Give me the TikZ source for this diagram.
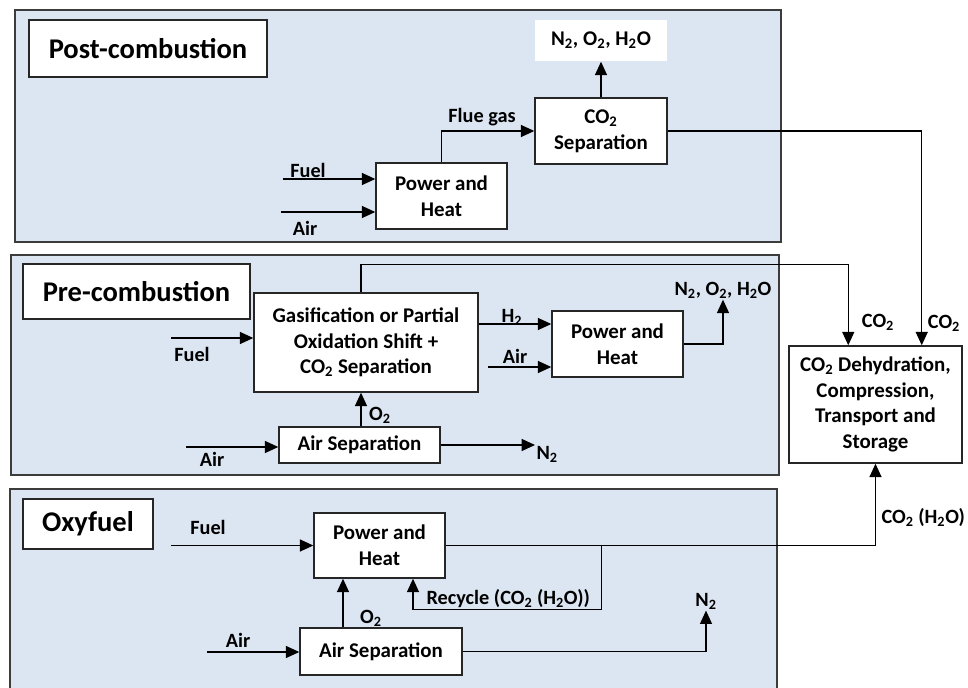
\documentclass[tikz,border=0pt]{standalone}
\usepackage{fontspec}
\setmainfont{Carlito}
\usepackage{tikz}
\usetikzlibrary{calc,positioning,arrows,arrows.meta,shapes}
\definecolor{panelblue}{RGB}{220,230,242}
\definecolor{framegray}{RGB}{60,60,60}
\tikzstyle{panel} = [draw=framegray, line width=1.1pt, fill=panelblue]
\tikzstyle{unit} = [rectangle, 
    draw=black!85, line width=1.1pt, 
    fill=white, 
    align=center, 
    inner sep=2pt, 
    font=\bfseries\fontsize{15.7}{19.3}\selectfont]
\tikzstyle{arrow} = [line width=0.9pt, -{Triangle[length=10pt,width=9pt]}]
\begin{document}
\begin{tikzpicture}[x=0.75pt, y=-0.75pt,
    title/.style={rectangle, 
    draw=black!85, line width=1.1pt, 
    fill=white, 
    font=\bfseries\fontsize{21.4}{25}\selectfont},
    lab/.style={inner sep=1pt, font=\bfseries\fontsize{15.2}{18}\selectfont},
    line/.style={draw, line width=0.9pt}
    ]
  \useasboundingbox (0,0) rectangle (968,688);
  \draw [panel] (15,10) rectangle (781,242);
  \draw [panel] (11,255) rectangle (779,475);
  \draw [panel] (10,489) rectangle (777,695);
  % post-combustion
  \node [title, minimum width=178.5pt, minimum height=42.75pt] (post) at (148,48.5) {Post-combustion};
  \node [unit, minimum width=98.25pt, minimum height=49.5pt] (ph1) at (441.5,196) {Power and\\Heat};
  \node [unit, minimum width=99pt, minimum height=49.5pt] (sep1) at (601,131) {CO\textsubscript{2}\\Separation};
  \node [unit, draw=none, minimum width=99pt, minimum height=30.75pt] (out1) at (601,40.5) {N\textsubscript{2}, O\textsubscript{2}, H\textsubscript{2}O};
  \node [unit, minimum width=129.75pt, minimum height=87.75pt] (dehyd) at (875.5,404.5) {CO\textsubscript{2} Dehydration,\\Compression,\\Transport and\\Storage};
  \coordinate (fuelA) at (283,179);
  \coordinate (airA) at (281,212);
  \draw [arrow] (fuelA) -- (fuelA -| ph1.west);
  \draw [arrow] (airA) -- (airA -| ph1.west);
  \node [lab] (fuelAlab) at (308,170) {Fuel};
  \node [lab] (airAlab) at (305,228) {Air};
  \draw [arrow] (ph1.north) |- (sep1.west);
  \node [lab] (flue) at (482,117) {Flue gas};
  \draw [arrow] (sep1.north) -- (out1.south);
  \draw [arrow] (sep1.east) -| ($(dehyd.north east)+(-41,0)$);
  \node [lab] (co2a) at (944,323) {CO\textsubscript{2}};
  % pre-combustion
  \node [title, minimum width=170.25pt, minimum height=41.25pt] (pre) at (136.5,291.5) {Pre-combustion};
  \node [unit, minimum width=168pt, minimum height=74.25pt] (gas) at (366,342.5) {Gasification or Partial\\Oxidation Shift +\\CO\textsubscript{2} Separation};
  \node [unit, minimum width=98.25pt, minimum height=49.5pt] (ph2) at (617.5,344) {Power and\\Heat};
  \node [unit, minimum width=120.75pt, minimum height=27pt] (asep2) at (359.5,445) {Air Separation};
  \draw [arrow] ($(gas.north)+(-5,0)$) -- ++(0,-28) -| ($(dehyd.north west)+(60,0)$);
  \node [lab] (co2b) at (878,322) {CO\textsubscript{2}};
  \coordinate (fuelB) at (171,338);
  \draw [arrow] (fuelB) -- (fuelB -| gas.west);
  \node [lab] (fuelBlab) at (192,354) {Fuel};
  \coordinate (h2in) at ($(ph2.west)+(0,-20)$);
  \coordinate (airin) at ($(ph2.west)+(0,23)$);
  \coordinate (airfrom) at (488,367);
  \draw [arrow] (gas.east |- h2in) -- (h2in);
  \draw [arrow] (airfrom) -- (airin);
  \node [lab] (h2lab) at (512,317) {H\textsubscript{2}};
  \node [lab] (airBlab) at (515,356) {Air};
  \node [lab] (out2) at (723,290) {N\textsubscript{2}, O\textsubscript{2}, H\textsubscript{2}O};
  \draw [arrow] (ph2.east) -| (out2.south);
  \coordinate (airC) at (186,447);
  \draw [arrow] (airC) -- (airC -| asep2.west);
  \node [lab] (airClab) at (212,459) {Air};
  \coordinate (o2from) at ($(asep2.north)+(1.5,0)$);
  \draw [arrow] (o2from) -- (o2from |- gas.south);
  \node [lab] (o2a) at (380,415) {O\textsubscript{2}};
  \node [lab, anchor=west] (n2a) at (535,454) {N\textsubscript{2}};
  \draw [arrow] (asep2.east) -- (asep2.east -| n2a.west);
  % oxyfuel
  \node [title, minimum width=97.5pt, minimum height=37.5pt] (oxy) at (88,524) {Oxyfuel};
  \node [unit, minimum width=98.25pt, minimum height=48.75pt] (ph3) at (379.5,545.5) {Power and\\Heat};
  \node [unit, minimum width=121.5pt, minimum height=35.25pt] (asep3) at (381,651.5) {Air Separation};
  \coordinate (fuelD) at (171,545.5);
  \draw [arrow] (fuelD) -- (ph3.west);
  \node [lab] (fuelDlab) at (208,527) {Fuel};
  \draw [arrow] (ph3.east) -| (dehyd.south);
  \node [lab, anchor=west] (co2c) at (880,518) {CO\textsubscript{2} (H\textsubscript{2}O)};
  \coordinate (split) at ($(ph3.east)+(156,0)$);
  \draw [arrow] (split) -- ++(0,64) -| ($(ph3.south)+(33.5,0)$);
  \node [lab, anchor=south west] (recyc) at (425,609) {Recycle (CO\textsubscript{2} (H\textsubscript{2}O))};
  \coordinate (o2from3) at ($(asep3.north)+(-38,0)$);
  \draw [arrow] (o2from3) -- (o2from3 |- ph3.south);
  \node [lab] (o2b) at (371,618) {O\textsubscript{2}};
  \coordinate (airD) at (207,652);
  \draw [arrow] (airD) -- (airD -| asep3.west);
  \node [lab] (airDlab) at (238,640) {Air};
  \node [lab] (n2b) at (706,601) {N\textsubscript{2}};
  \draw [arrow] (asep3.east) -| (n2b.south);
\end{tikzpicture}
\end{document}
